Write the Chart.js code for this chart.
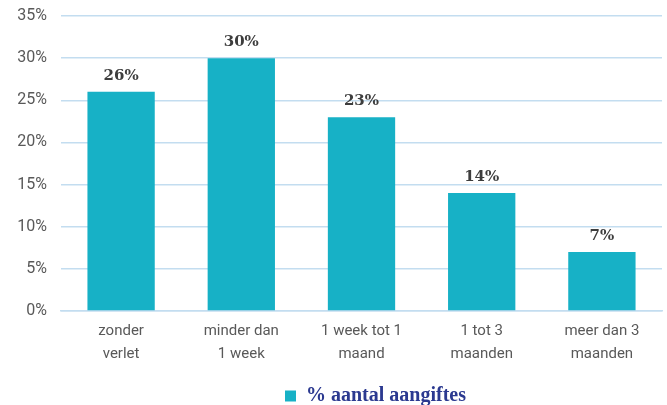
<!DOCTYPE html>
<html>
<head>
<meta charset="utf-8">
<script src="https://cdn.jsdelivr.net/npm/chart.js@4"></script>
<style>
  html, body { margin: 0; padding: 0; background: #fff; }
  #wrap { width: 667px; height: 405px; }
</style>
</head>
<body>
<div id="wrap"><canvas id="aangiftesChart"></canvas></div>
<script>
const categories = [
    ['zonder', 'verlet'],
    ['minder dan', '1 week'],
    ['1 week tot 1', 'maand'],
    ['1 tot 3', 'maanden'],
    ['meer dan 3', 'maanden']
];
const aangiftes = [26, 30, 23, 14, 7];
const seriesName = '% aantal aangiftes';

const barColor = '#17b1c6';
const gridColor = '#c3ddf0';

// draws the value above each bar
const valueLabels = {
    id: 'valueLabels',
    afterDatasetsDraw(chart) {
        const ctx = chart.ctx;
        const meta = chart.getDatasetMeta(0);
        ctx.save();
        ctx.font = 'bold 15px "DejaVu Serif", serif';
        ctx.fillStyle = '#3d3d3d';
        ctx.textAlign = 'center';
        ctx.textBaseline = 'alphabetic';
        meta.data.forEach((bar, i) => {
            ctx.fillText(aangiftes[i] + '%', bar.x, bar.y - 12);
        });
        ctx.restore();
    }
};

// nudge the legend a little to the right, like the original
const legendShift = {
    id: 'legendShift',
    afterLayout(chart) {
        if (chart.legend) {
            chart.legend.left += 14;
            chart.legend.right += 14;
        }
    }
};

const ctx = document.getElementById('aangiftesChart').getContext('2d');
const aangiftesChart = new Chart(ctx, {
    type: 'bar',
    data: {
        labels: categories,
        datasets: [{
            label: seriesName,
            data: aangiftes,
            backgroundColor: barColor,
            borderWidth: 0,
            categoryPercentage: 0.56,
            barPercentage: 1
        }]
    },
    options: {
        responsive: true,
        maintainAspectRatio: false,
        animation: false,
        layout: { padding: { top: 16, right: 5, left: 0, bottom: -11 } },
        plugins: {
            tooltip: { enabled: false },
            legend: {
                position: 'bottom',
                fullSize: false,
                labels: {
                    boxWidth: 11,
                    boxHeight: 11,
                    padding: 2,
                    color: '#2b3990',
                    font: { family: '"Liberation Serif", serif', size: 20, weight: 'bold' }
                }
            }
        },
        scales: {
            x: {
                grid: { display: false },
                border: { color: gridColor, width: 1.5 },
                ticks: {
                    color: '#595959',
                    padding: 1,
                    maxRotation: 0,
                    font: { family: '"Liberation Sans Narrow", Roboto, sans-serif', size: 15, lineHeight: 1.5 }
                },
                afterFit(scale) { scale.height = 73; }
            },
            y: {
                min: 0,
                max: 35,
                ticks: {
                    stepSize: 5,
                    color: '#595959',
                    padding: 14,
                    font: { family: 'Roboto, sans-serif', size: 16 },
                    callback: v => v + '%'
                },
                grid: { color: gridColor, lineWidth: 1.5, drawTicks: false },
                border: { display: false },
                afterFit(scale) {
                    scale.width = 61;
                    scale.paddingTop = 0;
                    scale.paddingBottom = 0;
                }
            }
        }
    },
    plugins: [valueLabels, legendShift]
});
</script>
</body>
</html>
